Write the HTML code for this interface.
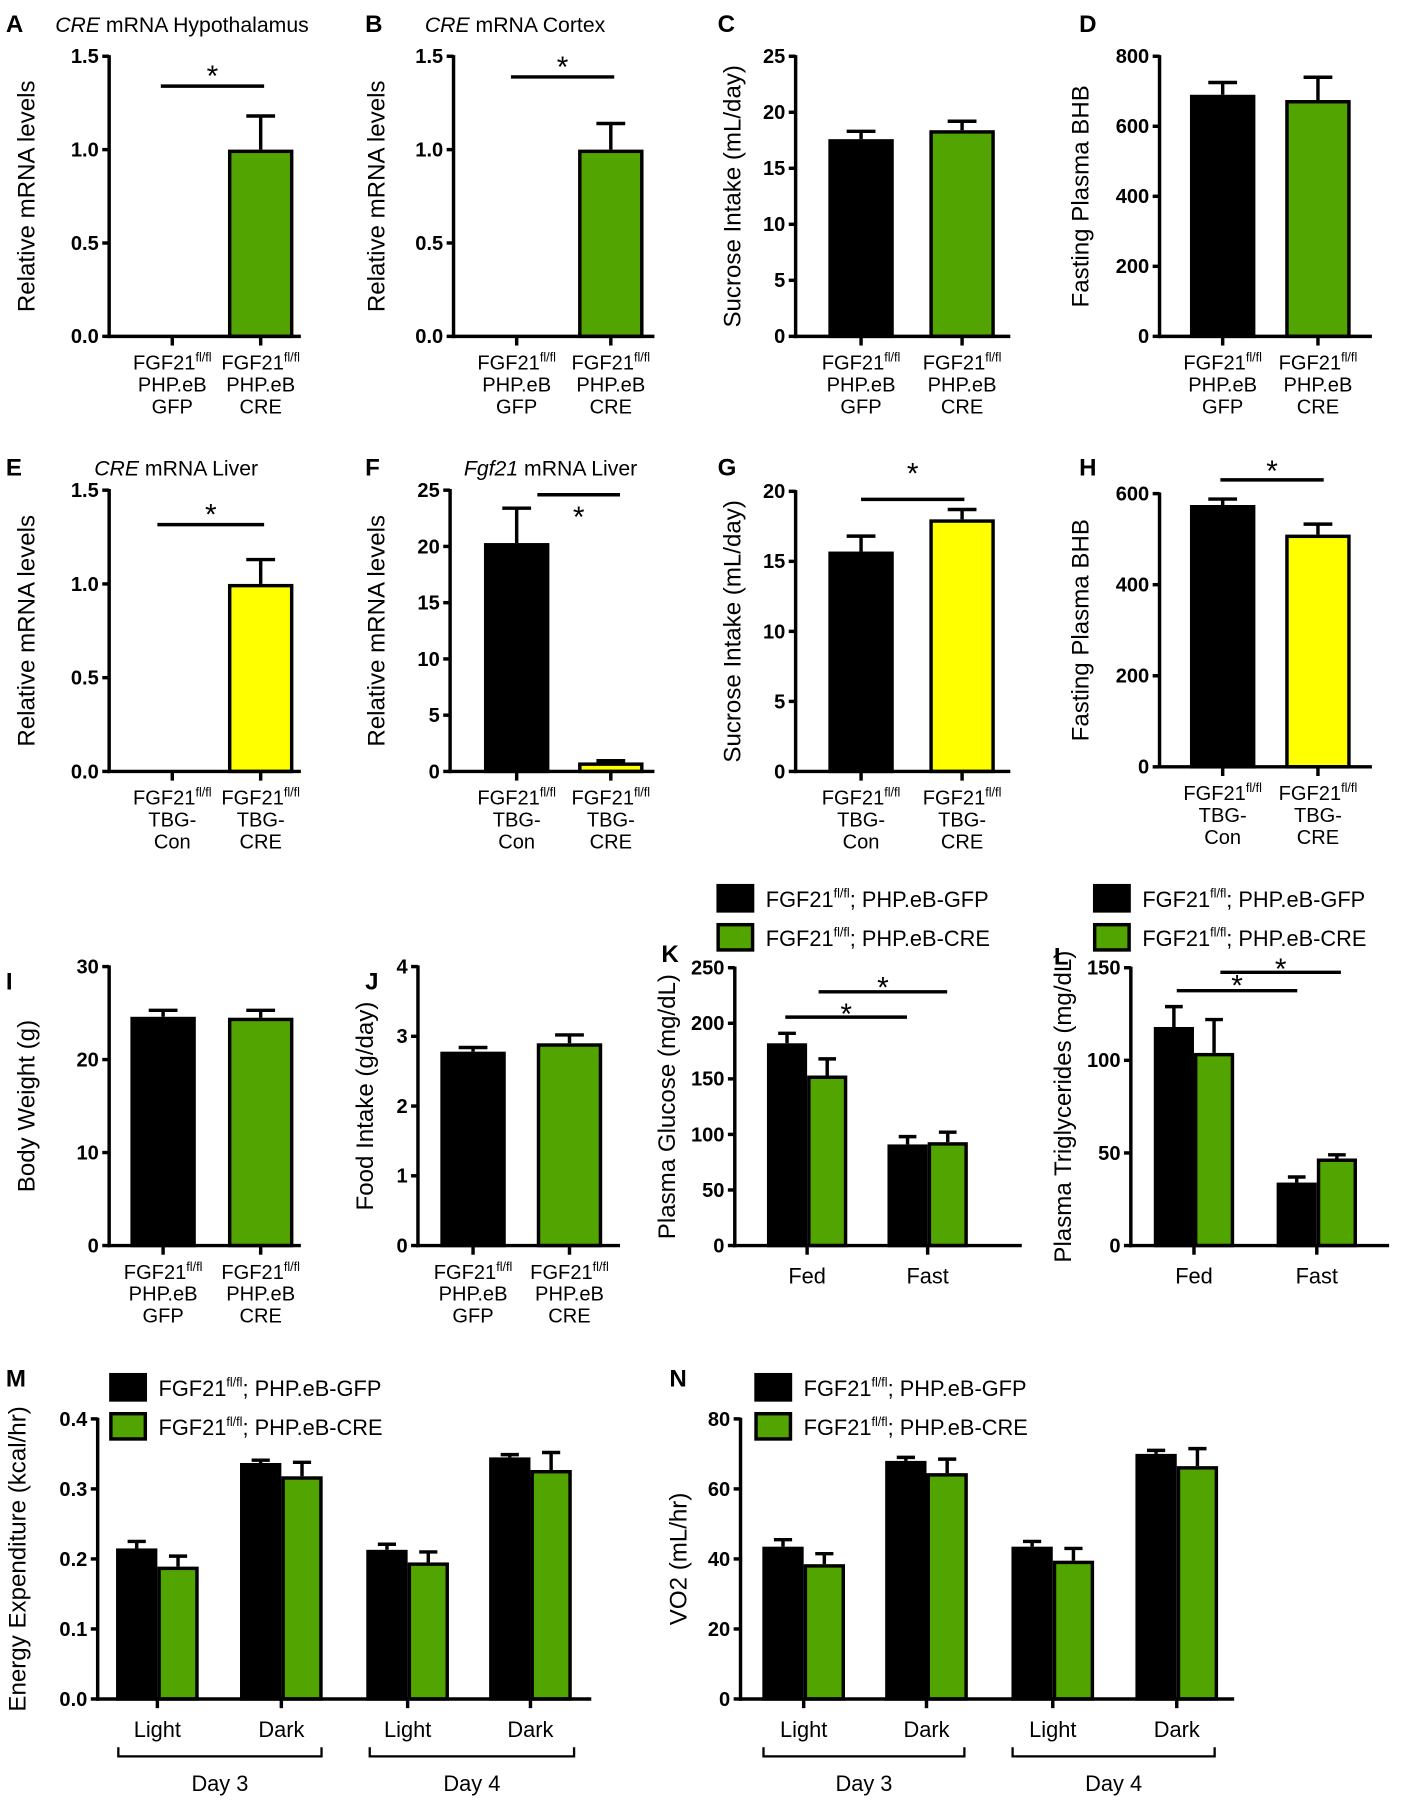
<!DOCTYPE html>
<html><head><meta charset="utf-8"><style>
html,body{margin:0;padding:0;background:#fff}
svg{display:block}
text{font-family:"Liberation Sans",Arial,sans-serif;fill:#000}
.tk{font-family:"Liberation Sans",sans-serif;font-weight:bold;font-size:17.5px}
.st{font-family:"Liberation Sans",sans-serif;font-size:26px}
.xl{font-family:"Liberation Sans",sans-serif;font-size:17.5px}
.yl{font-size:21px}
.pl{font-weight:bold;font-size:21px}
.ti{font-size:18.5px}
.lg{font-family:"Liberation Sans",sans-serif;font-size:19px}
</style></head><body>
<svg id="fig" width="1403" height="1800" viewBox="0 0 1222 1568" xmlns="http://www.w3.org/2000/svg"></svg>
<script>
// ---- data ----
const aVals=[0,1.0], aErr=[0,1.18];
const bVals=[0.005,1.0], bErr=[0,1.14];
const cVals=[17.6,18.4], cErr=[18.3,19.2];
const dVals=[690,675], dErr=[725,740];
const eVals=[0,1.0], eErr=[0,1.13];
const fVals=[20.3,0.8], fErr=[23.4,0.95];
const gVals=[15.7,18.0], gErr=[16.8,18.7];
const hVals=[575,510], hErr=[588,533];
const iVals=[24.6,24.5], iErr=[25.3,25.3];
const jVals=[2.78,2.9], jErr=[2.84,3.02];
const kCats=["Fed","Fast"];
const kGfp=[182,91], kGfpErr=[191,98], kCre=[153,93], kCreErr=[168,102];
const lGfp=[118,34], lGfpErr=[129,37], lCre=[104,47], lCreErr=[122,49];
const mCats=["Light","Dark","Light","Dark"];
const mGfp=[0.215,0.337,0.213,0.345], mGfpErr=[0.225,0.341,0.221,0.349];
const mCre=[0.189,0.318,0.195,0.327], mCreErr=[0.204,0.338,0.210,0.352];
const nGfp=[43.5,68,43.5,70], nGfpErr=[45.5,69,45,71];
const nCre=[38.5,64.5,39.5,66.5], nCreErr=[41.5,68.5,43,71.5];
const tick15=[0,0.5,1.0,1.5], tick25=[0,5,10,15,20,25], tick800=[0,200,400,600,800];
const tick20=[0,5,10,15,20], tick600=[0,200,400,600], tick30=[0,10,20,30], tick4=[0,1,2,3,4];
const tick250=[0,50,100,150,200,250], tick150=[0,50,100,150];
const tick04=[0,0.1,0.2,0.3,0.4], tick80=[0,20,40,60,80];

const GREEN="#52a500", YEL="#ffff00";
const svg=document.getElementById('fig');
const NS="http://www.w3.org/2000/svg";
function el(tag,attrs,parent){const e=document.createElementNS(NS,tag);for(const k in attrs)e.setAttribute(k,attrs[k]);(parent||svg).appendChild(e);return e;}
function txt(x,y,s,cls,anchor,parent){const t=el('text',{x:x,y:y,class:cls,'text-anchor':anchor||'middle'},parent);t.textContent=s;return t;}

function chart(o){
  const g=el('g',{});
  
  
  const sy=v=>o.y0-(v/o.max)*(o.y0-o.yTop);
  o.bars.forEach(b=>{
    const top=sy(b.v);
    if(b.e>b.v){
      const l=el('line',{x1:b.cx,x2:b.cx,y1:top,y2:sy(b.e),stroke:'#000','stroke-width':3},g);
      
      
      const c=el('line',{x1:b.cx-b.w*0.22,x2:b.cx+b.w*0.22,y1:sy(b.e),y2:sy(b.e),stroke:'#000','stroke-width':3},g);
      
      
    }
    const r=el('rect',{x:b.cx-b.w/2+1.5,y:top+1.5,width:b.w-3,height:Math.max(0,o.y0-top-1.5),fill:b.c,stroke:'#000','stroke-width':3},g);
    
    
  });
  el('line',{x1:o.ax,x2:o.ax,y1:o.yTop-1,y2:o.y0+1.5,stroke:'#000','stroke-width':3},g);
  el('line',{x1:o.ax-1.5,x2:o.x1,y1:o.y0,y2:o.y0,stroke:'#000','stroke-width':3},g);
  o.ticks.forEach(t=>{
    el('line',{x1:o.ax-6,x2:o.ax,y1:sy(t),y2:sy(t),stroke:'#000','stroke-width':3},g);
    const lab=txt(o.ax-9,sy(t)+6,o.fmt?o.fmt(t):String(t),'tk','end',g);
    
    
  });
  o.groups.forEach(x=>el('line',{x1:x,x2:x,y1:o.y0,y2:o.y0+8,stroke:'#000','stroke-width':3},g));
  const yl=el('text',{x:0,y:0,class:'yl','text-anchor':'middle',transform:`translate(${o.ylx},${(o.y0+o.yTop)/2}) rotate(-90)`},g);
  yl.textContent=o.ylabel;
  
  
  return o;
}
function sig(x1,x2,y,sy){el('line',{x1:x1,x2:x2,y1:y,y2:y,stroke:'#000','stroke-width':3});const s=txt((x1+x2)/2,sy+7,'*','st');}
function fgfLabel(cx,y,l2,l3){
  const t=el('text',{x:cx,y:y,class:'xl','text-anchor':'middle'});
  
  
  const a=el('tspan',{},t);a.textContent='FGF21';
  const b=el('tspan',{'font-size':'11','dy':'-7'},t);b.textContent='fl/fl';
  txt(cx,y+19,l2,'xl');txt(cx,y+38,l3,'xl');
}
function single(name,ax,x1,y0,yTop,max,ticks,fmt,g1,g2,vals,errs,cols,ylabel,ylx,labs){
  const bars=[0,1].map(i=>({cx:[g1,g2][i],v:vals[i],e:errs[i],c:cols[i],w:57}));
  chart({name,ax,x1,y0,yTop,max,ticks,fmt,groups:[g1,g2],bars,ylabel,ylx});
  fgfLabel(g1,y0+29,labs[0],labs[1]);fgfLabel(g2,y0+29,labs[0],labs[2]);
}
const f1=t=>t.toFixed(1);
const PH=['PHP.eB','GFP','CRE'], TB=['TBG-','Con','CRE'];
// Row 1
txt(5,28,'A','pl','start');
const tA=el('text',{x:48,y:28,class:'ti'});tA.innerHTML='<tspan font-style="italic">CRE</tspan> mRNA Hypothalamus';
single('chart-a',95,262,293,49,1.5,tick15,f1,150,227,aVals,aErr,['#000',GREEN],'Relative mRNA levels',30,PH);
sig(140,230,75,68);
txt(318,28,'B','pl','start');
const tB=el('text',{x:370,y:28,class:'ti'});tB.innerHTML='<tspan font-style="italic">CRE</tspan> mRNA Cortex';
single('chart-b',395,570,293,49,1.5,tick15,f1,450,532,bVals,bErr,['#000',GREEN],'Relative mRNA levels',335,PH);
sig(445,535,67,60);
txt(625,28,'C','pl','start');
single('chart-c',693,880,293,49,25,tick25,null,750,838,cVals,cErr,['#000',GREEN],'Sucrose Intake (mL/day)',645,PH);
txt(940,28,'D','pl','start');
single('chart-d',1010,1195,293,49,800,tick800,null,1065,1148,dVals,dErr,['#000',GREEN],'Fasting Plasma BHB',948,PH);
// Row 2
txt(5,414,'E','pl','start');
const tE=el('text',{x:82,y:414,class:'ti'});tE.innerHTML='<tspan font-style="italic">CRE</tspan> mRNA Liver';
single('chart-e',95,262,672,427,1.5,tick15,f1,150,227,eVals,eErr,['#000',YEL],'Relative mRNA levels',30,TB);
sig(137,230,457,450);
txt(318,414,'F','pl','start');
const tF=el('text',{x:404,y:414,class:'ti'});tF.innerHTML='<tspan font-style="italic">Fgf21</tspan> mRNA Liver';
single('chart-f',392,570,672,427,25,tick25,null,450,532,fVals,fErr,['#000',YEL],'Relative mRNA levels',335,TB);
sig(468,540,431,452);
txt(625,414,'G','pl','start');
single('chart-g',693,880,672,428,20,tick20,null,750,838,gVals,gErr,['#000',YEL],'Sucrose Intake (mL/day)',645,TB);
sig(750,840,435,414);
txt(940,414,'H','pl','start');
single('chart-h',1010,1195,668,430,600,tick600,null,1065,1148,hVals,hErr,['#000',YEL],'Fasting Plasma BHB',948,TB);
sig(1063,1153,418,412);
// Row 3
txt(5,862,'I','pl','start');
single('chart-i',95,262,1085,842,30,tick30,null,142,227,iVals,iErr,['#000',GREEN],'Body Weight (g)',30,PH);
txt(318,862,'J','pl','start');
single('chart-j',364,540,1085,842,4,tick4,null,412,496,jVals,jErr,['#000',GREEN],'Food Intake (g/day)',325,PH);
function legend(x,y){
  const g=el('g',{});
  
  
  [['#000','PHP.eB-GFP'],[GREEN,'PHP.eB-CRE']].forEach((d,i)=>{
    el('rect',{x:x+1.5,y:y+i*34+1.5,width:30,height:22,fill:d[0],stroke:'#000','stroke-width':3},g);
    const t=el('text',{x:x+43,y:y+i*34+20,class:'lg'},g);
    
    
    t.innerHTML='FGF21<tspan font-size="11" dy="-8">fl/fl</tspan><tspan dy="8">; '+d[1]+'</tspan>';
  });
}
function grouped(name,ax,x1,y0,yTop,max,ticks,fmt,centers,cats,gfp,gfpE,cre,creE,w,ylabel,ylx){
  const bars=[];
  centers.forEach((c,i)=>{bars.push({cx:c-w/2,v:gfp[i],e:gfpE[i],c:'#000',w:w});bars.push({cx:c+w/2,v:cre[i],e:creE[i],c:GREEN,w:w});});
  chart({name,ax,x1,y0,yTop,max,ticks,fmt,groups:centers,bars,ylabel,ylx});
  centers.forEach((c,i)=>{const t=txt(c,y0+33,cats[i],'lg');t.setAttribute('font-size','21');});
}
txt(576,838,'K','pl','start');legend(624,770);
grouped('chart-k',640,890,1085,843,250,tick250,null,[703,808],kCats,kGfp,kGfpErr,kCre,kCreErr,35,'Plasma Glucose (mg/dL)',588);
sig(684,790,886,885);sig(713,825,864,862);
txt(918,840,'L','pl','start');legend(952,770);
grouped('chart-l',985,1210,1085,843,150,tick150,null,[1040,1147],kCats,lGfp,lGfpErr,lCre,lCreErr,35,'Plasma Triglycerides (mg/dL)',933);
sig(1025,1130,863,860);sig(1063,1168,847,846);
// Row 4
txt(5,1208,'M','pl','start');legend(95,1196);
grouped('chart-m',85,515,1480,1236,0.4,tick04,f1,[137,245,355,462],mCats,mGfp,mGfpErr,mCre,mCreErr,36,'Energy Expenditure (kcal/hr)',22);
txt(583,1208,'N','pl','start');legend(657,1196);
grouped('chart-n',645,1075,1480,1236,80,tick80,null,[700,807,917,1025],mCats,nGfp,nGfpErr,nCre,nCreErr,36,'VO2 (mL/hr)',598);
function bracket(a,b,label){
  el('path',{d:`M${a} 1522 V1530 H${b} V1522`,fill:'none',stroke:'#000','stroke-width':2});
  const t=txt((a+b)/2,1560,label,'lg');t.setAttribute('font-size','21');
  
}
bracket(103,280,'Day 3');bracket(322,500,'Day 4');
bracket(665,840,'Day 3');bracket(882,1058,'Day 4');
</script>
</body></html>
